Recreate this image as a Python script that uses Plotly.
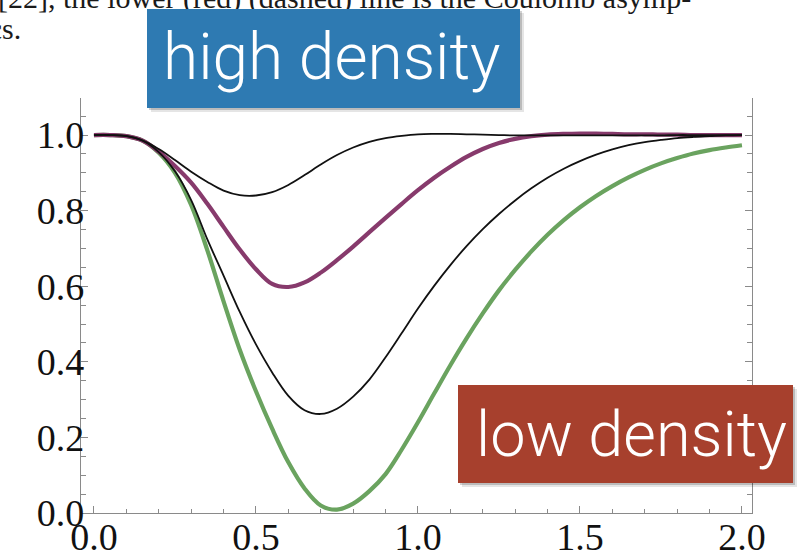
import plotly.graph_objects as go

# ---------------- data ----------------
r = [0.00, 0.05, 0.10, 0.15, 0.20, 0.25, 0.30, 0.35, 0.40, 0.45,
     0.50, 0.55, 0.60, 0.65, 0.70, 0.75, 0.80, 0.85, 0.90, 0.95,
     1.00, 1.05, 1.10, 1.15, 1.20, 1.25, 1.30, 1.35, 1.40, 1.45,
     1.50, 1.55, 1.60, 1.65, 1.70, 1.75, 1.80, 1.85, 1.90, 1.95, 2.00]

g_black_high = [1.000, 1.000, 0.998, 0.986, 0.963, 0.934, 0.903, 0.876, 0.853, 0.841,
                0.840, 0.849, 0.868, 0.894, 0.922, 0.947, 0.967, 0.982, 0.992, 0.998,
                1.002, 1.003, 1.003, 1.002, 1.001, 1.000, 0.999, 0.999, 0.999, 0.999,
                0.999, 0.999, 0.999, 0.999, 0.999, 0.999, 1.000, 1.000, 1.000, 1.000, 1.000]

g_purple = [1.000, 1.000, 0.997, 0.985, 0.956, 0.918, 0.874, 0.818, 0.757, 0.697,
            0.645, 0.606, 0.598, 0.610, 0.636, 0.669, 0.705, 0.743, 0.781, 0.818,
            0.854, 0.887, 0.916, 0.942, 0.963, 0.979, 0.990, 0.997, 1.001, 1.003,
            1.004, 1.004, 1.003, 1.002, 1.002, 1.001, 1.001, 1.000, 1.000, 1.000, 1.000]

g_black_mid = [1.000, 1.000, 0.997, 0.985, 0.955, 0.904, 0.828, 0.724, 0.628, 0.532,
               0.446, 0.372, 0.310, 0.272, 0.262, 0.276, 0.308, 0.353, 0.412, 0.476,
               0.541, 0.601, 0.656, 0.706, 0.751, 0.791, 0.827, 0.859, 0.887, 0.911,
               0.931, 0.948, 0.962, 0.973, 0.981, 0.987, 0.992, 0.995, 0.997, 0.999, 1.000]

g_green = [1.000, 1.000, 0.997, 0.985, 0.953, 0.900, 0.815, 0.695, 0.560, 0.432,
           0.322, 0.223, 0.134, 0.065, 0.020, 0.009, 0.025, 0.058, 0.103, 0.168,
           0.240, 0.316, 0.391, 0.462, 0.528, 0.589, 0.643, 0.692, 0.736, 0.775,
           0.809, 0.839, 0.865, 0.888, 0.908, 0.925, 0.939, 0.951, 0.960, 0.967, 0.973]

top_line1 = "[22], the lower (red) (dashed) line is the Coulomb asymp-"
top_line2 = "tics."
label_high = "high density"
label_low = "low density"

# ---------------- layout geometry ----------------
W, H = 799, 554
L, R, T, B = 81, 47, 98, 41
PW, PH = W - L - R, H - T - B


def px_x(p):
    return (p - L) / PW


def px_y(p):
    return (H - B - p) / PH


fig = go.Figure()
line_common = dict(shape="spline", smoothing=1.0)
fig.add_trace(go.Scatter(x=r, y=g_green, mode="lines", line=dict(color="#6aa35f", width=4.2, **line_common), showlegend=False))
fig.add_trace(go.Scatter(x=r, y=g_purple, mode="lines", line=dict(color="#873a6c", width=4.2, **line_common), showlegend=False))
fig.add_trace(go.Scatter(x=r, y=g_black_mid, mode="lines", line=dict(color="#111111", width=1.8, **line_common), showlegend=False))
fig.add_trace(go.Scatter(x=r, y=g_black_high, mode="lines", line=dict(color="#111111", width=1.8, **line_common), showlegend=False))

tickfont = dict(family="Liberation Serif", size=38, color="#111111")
axis_col = "#8a8a8a"

fig.update_layout(
    width=W, height=H,
    margin=dict(l=L, r=R, t=T, b=B, autoexpand=False),
    paper_bgcolor="white", plot_bgcolor="white",
    xaxis=dict(range=[-0.04, 2.031], tickmode="linear", tick0=0, dtick=0.5, tickformat=".1f",
               ticks="inside", ticklen=7, tickwidth=1, tickcolor=axis_col,
               showline=True, linecolor=axis_col, linewidth=1.3, mirror=False,
               showgrid=False, zeroline=False, tickfont=tickfont, automargin=False,
               ticklabelstandoff=-10,
               minor=dict(tickmode="linear", tick0=0, dtick=0.1, ticks="inside", ticklen=4, tickcolor=axis_col, showgrid=False)),
    xaxis2=dict(range=[-0.04, 2.031], overlaying="x", side="top", anchor="y",
                tickmode="linear", tick0=0, dtick=0.5, showticklabels=False,
                ticks="inside", ticklen=7, tickwidth=1, tickcolor=axis_col,
                showline=False, showgrid=False, zeroline=False, automargin=False,
                minor=dict(tickmode="linear", tick0=0, dtick=0.1, ticks="inside", ticklen=4, tickcolor=axis_col, showgrid=False)),
    yaxis=dict(range=[0, 1.098], tickmode="linear", tick0=0, dtick=0.2, tickformat=".1f",
               ticks="inside", ticklen=7, tickwidth=1, tickcolor=axis_col,
               showline=True, linecolor=axis_col, linewidth=1.3, mirror="ticks",
               showgrid=False, zeroline=False, tickfont=tickfont, automargin=False,
               ticklabelstandoff=-12,
               minor=dict(tickmode="linear", tick0=0, dtick=0.05, ticks="inside", ticklen=5, tickcolor=axis_col, showgrid=False)),
)

# shadows under label boxes
for (x0, y0, x1, y1) in [(147, 9, 520, 108), (458, 385, 793, 483)]:
    for off, alpha in [(4, 0.10), (2, 0.18)]:
        fig.add_shape(type="rect", xref="paper", yref="paper",
                      x0=px_x(x0 + off), x1=px_x(x1 + off), y0=px_y(y1 + off), y1=px_y(y0 + off),
                      line=dict(width=0), fillcolor=f"rgba(0,0,0,{alpha})", layer="above")

serif = dict(family="Liberation Serif", size=30, color="#1a1a1a")
anns = [
    dict(text=top_line1, x=px_x(693), xanchor="right", y=px_y(-2), yanchor="middle", font=serif),
    dict(text=top_line2, x=px_x(23), xanchor="right", y=px_y(29), yanchor="middle", font=serif),
    dict(text="\u00a0", x=px_x(147), xanchor="left", y=px_y(9), yanchor="top",
         width=373, height=99, bgcolor="#2e7ab2", borderpad=0, borderwidth=0),
    dict(text="\u00a0", x=px_x(458), xanchor="left", y=px_y(385), yanchor="top",
         width=335, height=98, bgcolor="#a7402d", borderpad=0, borderwidth=0),
    dict(text=label_high, x=px_x(332), xanchor="center", y=px_y(58), yanchor="middle",
         font=dict(family="Roboto", size=64, color="white", weight=300)),
    dict(text=label_low, x=px_x(631), xanchor="center", y=px_y(434), yanchor="middle",
         font=dict(family="Roboto", size=63, color="white", weight=300)),
]
for a in anns:
    fig.add_annotation(xref="paper", yref="paper", showarrow=False, **a)

fig.write_html("out.html")
